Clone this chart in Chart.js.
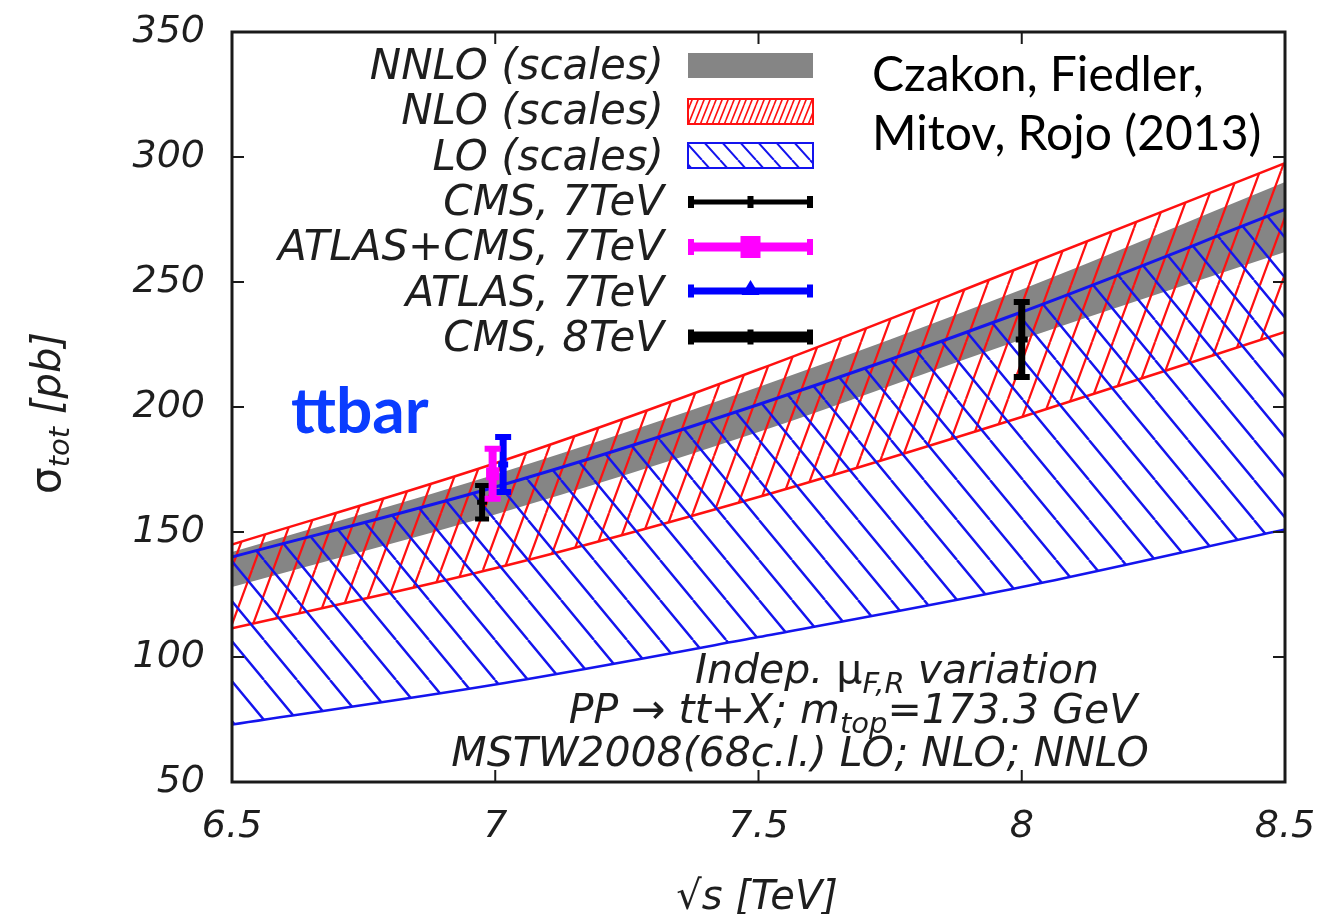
<!DOCTYPE html>
<html>
<head>
<meta charset="utf-8">
<script src="https://cdn.jsdelivr.net/npm/chart.js@4.4.1/dist/chart.umd.min.js"></script>
<style>
  html, body { margin: 0; padding: 0; background: #fff; }
  #wrap { width: 1330px; height: 914px; }
</style>
</head>
<body>
<div id="wrap"><canvas id="c" width="1330" height="914"></canvas></div>
<script>
// ---- data ----
const sqrtS   = [6.5, 7, 7.5, 8, 8.5];
const loHi    = [140, 168, 201, 238, 279];
const loLo    = [73, 89, 108, 128, 151];
const nloHi   = [145, 177.5, 215, 256, 297.5];
const nloLo   = [111.5, 135.5, 164, 196, 230];
const nnloHi  = [142, 173, 208, 247, 290];
const nnloLo  = [128, 157, 190, 227, 262];

// measurements (x slightly shifted at 7 TeV like the original)
const expLabels = ['CMS, 7TeV', 'ATLAS+CMS, 7TeV', 'ATLAS, 7TeV', 'CMS, 8TeV'];
const expX      = [6.975, 6.995, 7.015, 8.0];
const expY      = [161.9, 173.3, 177, 227];
const expErr    = [6.7, 10, 11, 15];

const bandLabels = ['NNLO (scales)', 'NLO (scales)', 'LO (scales)'];

const xTicks = [6.5, 7, 7.5, 8, 8.5];
const xTickLabels = ['6.5', '7', '7.5', '8', '8.5'];
const yTicks = [50, 100, 150, 200, 250, 300, 350];
const yTickLabels = ['50', '100', '150', '200', '250', '300', '350'];

const canvas = document.getElementById('c');
const ctx = canvas.getContext('2d');

// hatch tiles
function hatch(w, h, dir, color, lw) {
  const t = document.createElement('canvas');
  t.width = w; t.height = h;
  const g = t.getContext('2d');
  g.strokeStyle = color;
  g.lineWidth = lw;
  g.beginPath();
  for (let k = -1; k <= 1; k++) {
    const dx = k * w;
    if (dir === '/') { g.moveTo(dx, h); g.lineTo(dx + w, 0); }
    else { g.moveTo(dx, 0); g.lineTo(dx + w, h); }
  }
  g.stroke();
  return ctx.createPattern(t, 'repeat');
}

const RED = '#ff1010';
const BLUE = '#1414ee';
const GRAY = '#858585';
const redHatch = hatch(21, 57, '/', RED, 2.2);
const blueHatch = hatch(33, 40, '\\', BLUE, 2.4);
const redHatchKey = hatch(6, 15, '/', RED, 1.6);
const blueHatchKey = hatch(18, 20, '\\', BLUE, 2);

const pts = ys => sqrtS.map((x, i) => ({ x: x, y: ys[i] }));

function bandSets(hi, lo, color, lw, bg, order) {
  const common = { pointRadius: 0, cubicInterpolationMode: 'monotone', order: order, borderColor: color };
  return [
    Object.assign({ data: pts(hi), borderWidth: lw, fill: '+1', backgroundColor: bg }, common),
    Object.assign({ data: pts(lo), borderWidth: lw === 0 ? 0 : 2.5, fill: false }, common)
  ];
}

// error bars: three points per measurement, caps via pointStyle 'line'
const expStyle = [
  { color: '#000000', w: 6, cap: 7, capW: 5, mid: 'line', midR: 5 },
  { color: '#ff00ff', w: 8, cap: 8, capW: 6, mid: 'rect', midR: 5 },
  { color: '#0000ff', w: 7, cap: 8, capW: 6, mid: 'line', midR: 5 },
  { color: '#000000', w: 7, cap: 8, capW: 6, mid: 'line', midR: 6 }
];
const expSets = expLabels.map((lab, i) => {
  const s = expStyle[i];
  return {
    label: lab,
    data: [
      { x: expX[i], y: expY[i] - expErr[i] },
      { x: expX[i], y: expY[i] },
      { x: expX[i], y: expY[i] + expErr[i] }
    ],
    borderColor: s.color,
    backgroundColor: s.color,
    borderWidth: s.w,
    pointStyle: ['line', s.mid, 'line'],
    pointRadius: [s.cap, s.midR, s.cap],
    pointBorderWidth: s.capW,
    pointBorderColor: s.color,
    pointBackgroundColor: s.color,
    fill: false,
    tension: 0,
    order: i === 0 ? 1 : 0
  };
});

const datasets = []
  .concat(bandSets(loHi, loLo, BLUE, 3, blueHatch, 2))
  .concat(bandSets(nloHi, nloLo, RED, 2.5, redHatch, 3))
  .concat(bandSets(nnloHi, nnloLo, GRAY, 0, GRAY, 4))
  .concat(expSets);

// mixed text with subscripts
function rich(c, parts, x, y, align) {
  let total = 0;
  parts.forEach(p => { c.font = p.font; p.w = c.measureText(p.t).width; total += p.w; });
  let cx = align === 'center' ? x - total / 2 : (align === 'right' ? x - total : x);
  c.textAlign = 'left';
  c.textBaseline = 'alphabetic';
  parts.forEach(p => {
    c.font = p.font;
    c.fillText(p.t, cx, y + (p.dy || 0));
    cx += p.w;
  });
}

const KEYFONT = 'italic 42px "DejaVu Sans"';
const NOTEFONT = 'italic 41px "DejaVu Sans"';
const SUBFONT = 'italic 29px "DejaVu Sans"';

const decor = {
  id: 'decor',
  afterDraw(chart) {
    const c = chart.ctx;
    const a = chart.chartArea;
    const xs = chart.scales.x, ys = chart.scales.y;
    c.save();

    // frame and inward ticks
    c.strokeStyle = '#1a1a1a';
    c.lineWidth = 3;
    c.strokeRect(a.left, a.top, a.right - a.left, a.bottom - a.top);
    c.lineWidth = 2;
    c.beginPath();
    yTicks.forEach(v => {
      const py = ys.getPixelForValue(v);
      c.moveTo(a.left, py); c.lineTo(a.left + 12, py);
      c.moveTo(a.right, py); c.lineTo(a.right - 12, py);
    });
    xTicks.forEach(v => {
      const px = xs.getPixelForValue(v);
      c.moveTo(px, a.bottom); c.lineTo(px, a.bottom - 12);
      c.moveTo(px, a.top); c.lineTo(px, a.top + 12);
    });
    c.stroke();

    // key
    const kx0 = 688, kx1 = 813;
    const base = [79, 124, 170, 215, 260, 306, 351];
    const keyLabels = bandLabels.concat(expLabels);
    c.fillStyle = '#1e1e1e';
    c.font = KEYFONT;
    c.textAlign = 'right';
    c.textBaseline = 'alphabetic';
    keyLabels.forEach((t, i) => c.fillText(t, 664, base[i]));

    c.fillStyle = GRAY;
    c.fillRect(kx0, 53, kx1 - kx0, 25);
    c.fillStyle = redHatchKey;
    c.fillRect(kx0, 99, kx1 - kx0, 25);
    c.strokeStyle = RED; c.lineWidth = 2;
    c.strokeRect(kx0, 99, kx1 - kx0, 25);
    c.fillStyle = blueHatchKey;
    c.fillRect(kx0, 143, kx1 - kx0, 25);
    c.strokeStyle = BLUE;
    c.strokeRect(kx0, 143, kx1 - kx0, 25);

    const keyLines = [
      { y: 202, color: '#000', lw: 5, end: 12, mid: 'bar' },
      { y: 247, color: '#ff00ff', lw: 9, end: 16, mid: 'square' },
      { y: 291, color: '#0000ff', lw: 7, end: 13, mid: 'tri' },
      { y: 337, color: '#000', lw: 11, end: 15, mid: 'bar' }
    ];
    keyLines.forEach(k => {
      c.fillStyle = k.color;
      c.fillRect(kx0, k.y - k.lw / 2, kx1 - kx0, k.lw);
      c.fillRect(kx0, k.y - k.end / 2, 6, k.end);
      c.fillRect(kx1 - 6, k.y - k.end / 2, 6, k.end);
      const mx = (kx0 + kx1) / 2;
      if (k.mid === 'bar') c.fillRect(mx - 3, k.y - k.end / 2, 6, k.end);
      if (k.mid === 'square') c.fillRect(mx - 10, k.y - 11, 20, 22);
      if (k.mid === 'tri') {
        c.beginPath(); c.moveTo(mx, k.y - 11); c.lineTo(mx + 9, k.y + 4); c.lineTo(mx - 9, k.y + 4);
        c.closePath(); c.fill();
      }
    });

    // authors
    c.fillStyle = '#000';
    c.font = '48px Lato';
    c.textAlign = 'left';
    c.fillText('Czakon, Fiedler,', 872, 91);
    c.fillText('Mitov, Rojo (2013)', 872, 150);

    // process label
    c.fillStyle = '#0a3cff';
    c.font = 'bold 64px Lato';
    c.fillText('ttbar', 291, 433);

    // bottom notes
    c.fillStyle = '#1e1e1e';
    rich(c, [
      { t: 'Indep. ', font: NOTEFONT },
      { t: 'μ', font: '41px "DejaVu Sans"' },
      { t: 'F,R', font: SUBFONT, dy: 10 },
      { t: ' variation', font: NOTEFONT }
    ], 897, 683, 'center');
    rich(c, [
      { t: 'PP → tt+X; m', font: NOTEFONT },
      { t: 'top', font: SUBFONT, dy: 10 },
      { t: '=173.3 GeV', font: NOTEFONT }
    ], 853, 723, 'center');
    rich(c, [
      { t: 'MSTW2008(68c.l.) LO; NLO; NNLO', font: NOTEFONT }
    ], 800, 766, 'center');

    // axis titles
    rich(c, [
      { t: '√', font: '40px "DejaVu Sans"' },
      { t: 's [TeV]', font: 'italic 40px "DejaVu Sans"' }
    ], 757, 909, 'center');
    c.save();
    c.translate(60, 413);
    c.rotate(-Math.PI / 2);
    rich(c, [
      { t: 'σ', font: '42px "DejaVu Sans"' },
      { t: 'tot', font: SUBFONT, dy: 9 },
      { t: ' [pb]', font: 'italic 40px "DejaVu Sans"' }
    ], 0, 0, 'center');
    c.restore();

    c.restore();
  }
};

// keep the plot box fixed: no extra room for overhanging tick labels
function noOverhang(s) {
  s.paddingLeft = 0; s.paddingRight = 0; s.paddingTop = 0; s.paddingBottom = 0;
}

new Chart(ctx, {
  type: 'line',
  data: { datasets: datasets },
  options: {
    responsive: false,
    devicePixelRatio: 1,
    animation: false,
    events: [],
    layout: { padding: { top: 32, right: 45, left: 0, bottom: 0 } },
    plugins: { legend: { display: false }, tooltip: { enabled: false } },
    scales: {
      x: {
        type: 'linear', min: 6.5, max: 8.5,
        afterBuildTicks: s => { s.ticks = xTicks.map(v => ({ value: v })); },
        afterFit: s => { s.height = 132; noOverhang(s); },
        grid: { display: false, drawTicks: false },
        border: { display: false },
        ticks: {
          autoSkip: false, maxRotation: 0, padding: 22, color: '#1e1e1e',
          font: { family: 'DejaVu Sans', style: 'italic', size: 38 },
          callback: v => xTickLabels[xTicks.indexOf(v)]
        }
      },
      y: {
        type: 'linear', min: 50, max: 350,
        afterBuildTicks: s => { s.ticks = yTicks.map(v => ({ value: v })); },
        afterFit: s => { s.width = 232; noOverhang(s); },
        grid: { display: false, drawTicks: false },
        border: { display: false },
        ticks: {
          autoSkip: false, padding: 27, color: '#1e1e1e',
          font: { family: 'DejaVu Sans', style: 'italic', size: 38 },
          callback: v => yTickLabels[yTicks.indexOf(v)]
        }
      }
    }
  },
  plugins: [decor]
});
</script>
</body>
</html>
